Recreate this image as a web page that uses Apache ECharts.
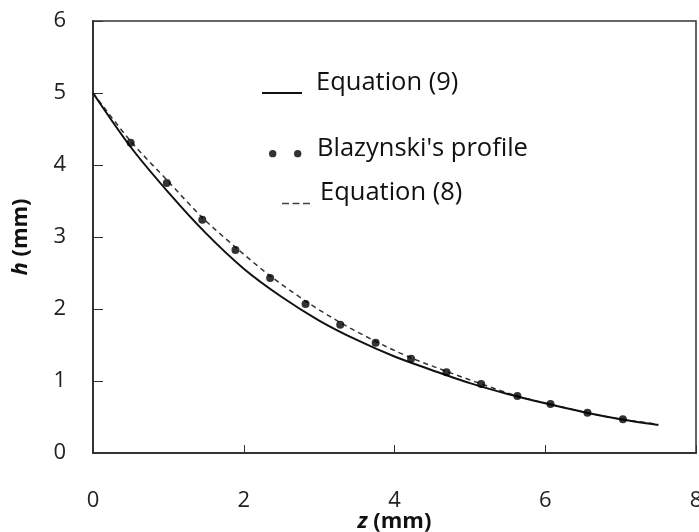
<!DOCTYPE html>
<html>
<head>
<meta charset="utf-8">
<script src="https://cdn.jsdelivr.net/npm/echarts@6/dist/echarts.min.js"></script>
<style>html,body{margin:0;padding:0;background:#fff}#c{width:699px;height:532px}</style>
</head>
<body>
<div id="c"></div>
<script>
// Equation (9) - solid curve
var eq9Z = [0, 0.5, 1.0, 1.5, 2.0, 2.5, 3.0, 3.5, 4.0, 4.5, 5.0, 5.5, 6.0, 6.5, 7.0, 7.5];
var eq9H = [5, 4.25, 3.62, 3.05, 2.56, 2.17, 1.84, 1.57, 1.34, 1.15, 0.97, 0.82, 0.69, 0.57, 0.47, 0.39];
// Equation (8) - dashed curve
var eq8Z = [0, 0.5, 1.0, 1.45, 1.9, 2.35, 2.85, 3.3, 3.75, 4.2, 4.7, 5.15, 5.6, 6.05, 6.55, 7.0, 7.5];
var eq8H = [5, 4.33, 3.77, 3.27, 2.85, 2.46, 2.09, 1.80, 1.55, 1.33, 1.13, 0.96, 0.80, 0.68, 0.56, 0.47, 0.40];
// Blazynski's profile - points
var blzZ = [0.50, 0.98, 1.45, 1.89, 2.35, 2.82, 3.28, 3.75, 4.22, 4.69, 5.15, 5.63, 6.07, 6.56, 7.03];
var blzH = [4.31, 3.75, 3.24, 2.82, 2.43, 2.07, 1.78, 1.53, 1.31, 1.12, 0.96, 0.79, 0.68, 0.56, 0.47];
var xTicks = [0, 2, 4, 6, 8];
var yTicks = [0, 1, 2, 3, 4, 5, 6];

function pairs(xs, ys) { return xs.map(function (x, i) { return [x, ys[i]]; }); }

var FONT = 'Open Sans';
var legendText = { fontFamily: FONT, fontSize: 25.5, color: '#111' };

var chart = echarts.init(document.getElementById('c'), null, { renderer: 'canvas' });
chart.setOption({
  animation: false,
  backgroundColor: '#fff',
  grid: { left: 93, top: 21, right: 3, bottom: 79, containLabel: false, outerBoundsMode: 'none',
    show: true, borderColor: '#333', borderWidth: 1.5, backgroundColor: 'transparent' },
  xAxis: {
    type: 'value', min: 0, max: 8, interval: 2,
    name: '{i|z}{b| (mm)}', nameLocation: 'middle', nameGap: 58, nameMoveOverlap: false,
    nameTextStyle: { rich: {
      i: { fontFamily: FONT, fontSize: 22, fontWeight: 'bold', fontStyle: 'italic', color: '#111' },
      b: { fontFamily: FONT, fontSize: 22, fontWeight: 'bold', color: '#111' } } },
    axisLine: { show: true, lineStyle: { color: '#333', width: 2 } },
    axisTick: { show: true, inside: true, length: 8, lineStyle: { color: '#333', width: 1 } },
    axisLabel: { margin: 37, fontFamily: FONT, fontSize: 22, color: '#222',
      formatter: function (v) { return xTicks.indexOf(v) >= 0 ? String(v) : ''; } },
    splitLine: { show: false }
  },
  yAxis: {
    type: 'value', min: 0, max: 6, interval: 1,
    name: '{i|h}{b| (mm)}', nameLocation: 'middle', nameGap: 61, nameMoveOverlap: false,
    nameTextStyle: { rich: {
      i: { fontFamily: FONT, fontSize: 22, fontWeight: 'bold', fontStyle: 'italic', color: '#111' },
      b: { fontFamily: FONT, fontSize: 22, fontWeight: 'bold', color: '#111' } } },
    axisLine: { show: true, lineStyle: { color: '#333', width: 2 } },
    axisTick: { show: true, inside: true, length: 10, lineStyle: { color: '#333', width: 1 } },
    axisLabel: { margin: 27, fontFamily: FONT, fontSize: 22, color: '#222',
      formatter: function (v) { return yTicks.indexOf(v) >= 0 ? String(v) : ''; } },
    splitLine: { show: false }
  },
  legend: [
    { data: ['Equation (9)'], left: 262, top: 69.5, padding: 0, selectedMode: false, itemWidth: 49, itemHeight: 24,
      icon: 'path://M0,0h0.01v0.01h-0.01z M0,21h40v2h-40z M48.99,0h0.01v0.01h-0.01z',
      textStyle: legendText, itemStyle: { color: '#111' } },
    { data: ["Blazynski's profile"], left: 269, top: 136, padding: 0, selectedMode: false, itemWidth: 43, itemHeight: 18,
      icon: 'path://M0,0h0.01v0.01h-0.01z M0,13a3.7,3.7 0 1,0 7.4,0a3.7,3.7 0 1,0 -7.4,0z M25,13a3.7,3.7 0 1,0 7.4,0a3.7,3.7 0 1,0 -7.4,0z M42.99,0h0.01v0.01h-0.01z',
      textStyle: legendText, itemStyle: { color: '#000' } },
    { data: ['Equation (8)'], left: 282, top: 180, padding: 0, selectedMode: false, itemWidth: 33, itemHeight: 24,
      icon: 'path://M0,0h0.01v0.01h-0.01z M0,21h7v1.6h-7z M10.5,21h7v1.6h-7z M21,21h7v1.6h-7z M32.99,0h0.01v0.01h-0.01z',
      textStyle: legendText, itemStyle: { color: '#444' } }
  ],
  series: [
    { name: 'Equation (9)', type: 'line', data: pairs(eq9Z, eq9H), smooth: 0.3, showSymbol: false, symbol: 'none',
      lineStyle: { color: '#111', width: 2 }, itemStyle: { color: '#111' }, z: 3 },
    { name: 'Equation (8)', type: 'line', data: pairs(eq8Z, eq8H), smooth: 0.3, showSymbol: false, symbol: 'none',
      lineStyle: { color: '#333', width: 1.5, type: [5, 4] }, itemStyle: { color: '#444' }, z: 2 },
    { name: "Blazynski's profile", type: 'scatter', data: pairs(blzZ, blzH), symbol: 'circle', symbolSize: 8,
      itemStyle: { color: '#000' }, z: 4 }
  ]
});
</script>
</body>
</html>
